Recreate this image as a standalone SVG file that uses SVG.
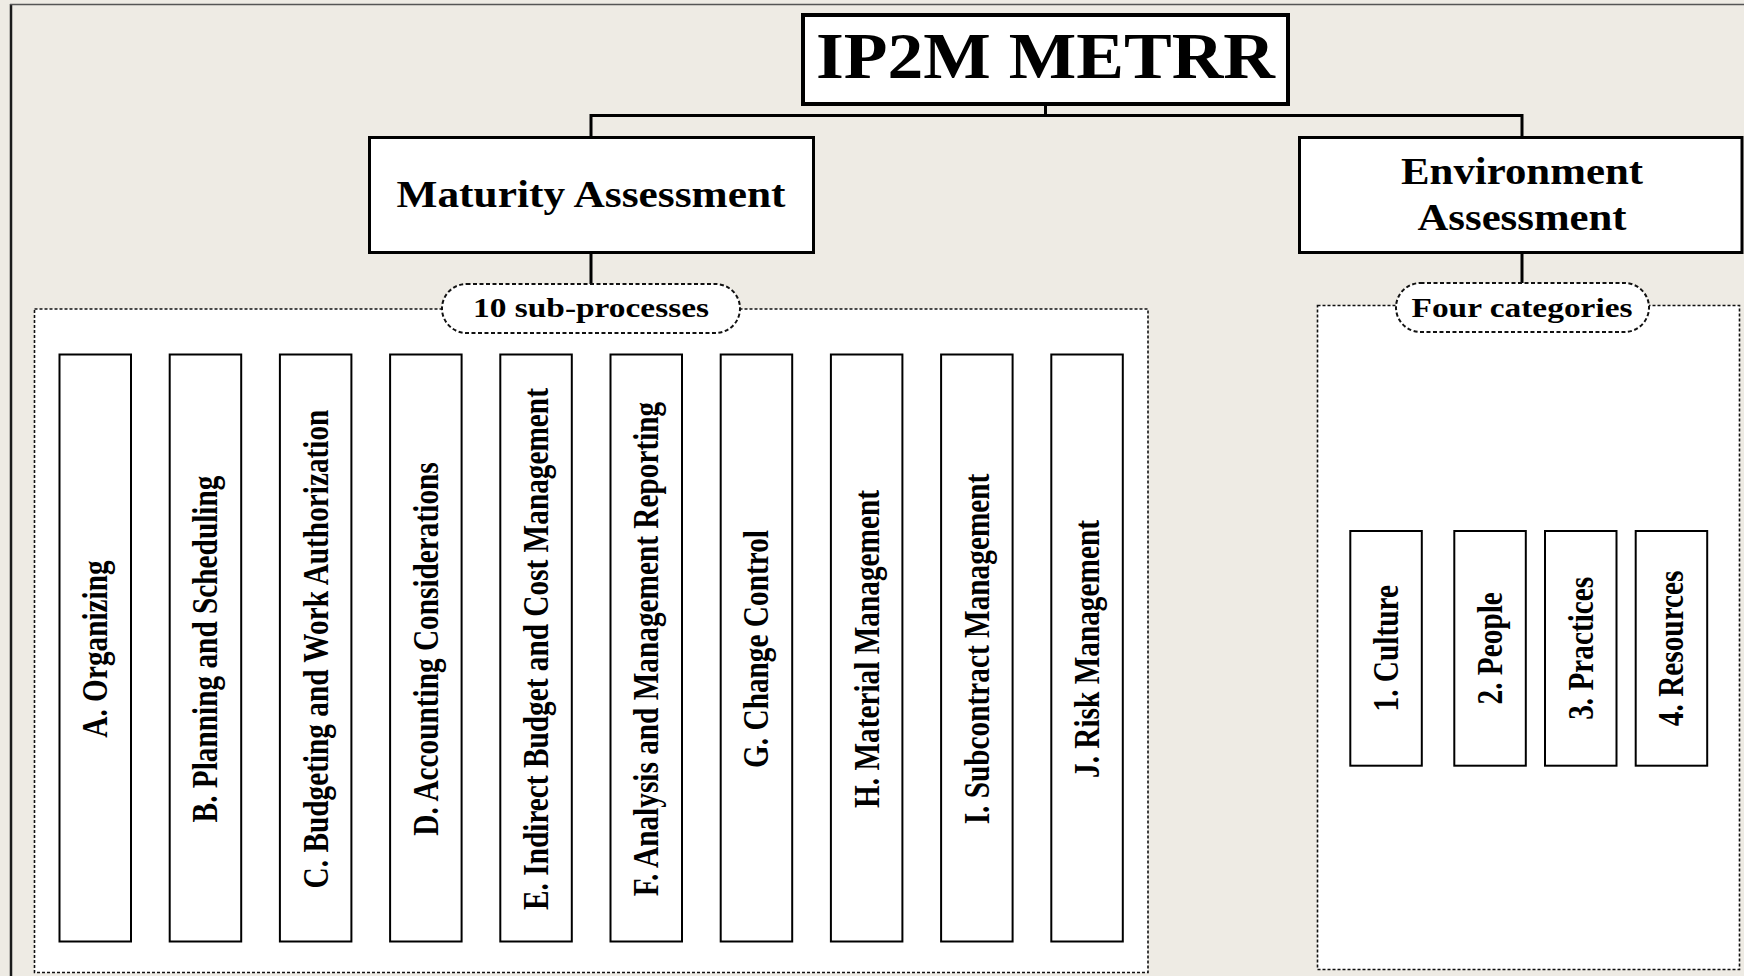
<svg xmlns="http://www.w3.org/2000/svg" width="1744" height="976" viewBox="0 0 1744 976">
<style>
.bg{fill:#EEEBE4}
.box{fill:#fff;stroke:#000}
.cont{fill:#fff;stroke:#111;stroke-width:1.6;stroke-dasharray:3 2}
.pill{fill:#fff;stroke:#111;stroke-width:2;stroke-dasharray:4 2.5}
.conn{fill:none;stroke:#000;stroke-width:3}
.t{font-family:"Liberation Serif","Times New Roman",serif;font-weight:bold;fill:#000;text-anchor:middle}
.vt{font-family:"Liberation Serif","Times New Roman",serif;font-weight:bold;fill:#000;text-anchor:middle;font-size:29.3px}
.sub{stroke-width:2}
</style>
<rect class="bg" x="0" y="0" width="1744" height="976"/>
<g id="frame">
<line x1="11" y1="4" x2="11" y2="976" stroke="#1a1a1a" stroke-width="2.5"/>
<line x1="10" y1="4.5" x2="1744" y2="4.5" stroke="#555" stroke-width="1.5"/>
</g>
<g id="connectors">
<path class="conn" d="M1045.5,106 V115.5 M591,137 V115.5 H1522 V137"/>
<path class="conn" d="M591,254 V284"/>
<path class="conn" d="M1522,254 V283"/>
</g>
<g id="title">
<rect class="box" x="803" y="15" width="485" height="89" stroke-width="4"/>
<text class="t" x="1045.5" y="78" font-size="66" textLength="459" lengthAdjust="spacingAndGlyphs">IP2M METRR</text>
</g>
<g id="maturity">
<rect class="box" x="369.5" y="137.5" width="444" height="115" stroke-width="3"/>
<text class="t" x="591" y="207" font-size="38" textLength="389" lengthAdjust="spacingAndGlyphs">Maturity Assessment</text>
</g>
<g id="environment">
<rect class="box" x="1299.5" y="137.5" width="442.5" height="115" stroke-width="3"/>
<text class="t" x="1522" y="184" font-size="38" textLength="242" lengthAdjust="spacingAndGlyphs">Environment</text>
<text class="t" x="1522" y="230" font-size="38" textLength="209" lengthAdjust="spacingAndGlyphs">Assessment</text>
</g>
<g id="subprocesses-group">
<rect class="cont" x="34.5" y="309" width="1113.5" height="663.5"/>
</g>
<g id="categories-group">
<rect class="cont" x="1317.5" y="305.5" width="422" height="664"/>
</g>
<g id="label-subprocesses">
<rect class="pill" x="442" y="284" width="298" height="49" rx="24.5"/>
<text class="t" x="591" y="317" font-size="28" textLength="236" lengthAdjust="spacingAndGlyphs">10 sub-processes</text>
</g>
<g id="label-categories">
<rect class="pill" x="1396" y="283" width="253" height="49" rx="24.5"/>
<text class="t" x="1522" y="317" font-size="28" textLength="221" lengthAdjust="spacingAndGlyphs">Four categories</text>
</g>
<g id="proc-A"><rect class="box sub" x="59.5" y="354.5" width="71.5" height="587"/><text class="vt" transform="translate(107.1,649) scale(1.22,1) rotate(-90)">A. Organizing</text></g>
<g id="proc-B"><rect class="box sub" x="169.7" y="354.5" width="71.5" height="587"/><text class="vt" transform="translate(217.3,649) scale(1.22,1) rotate(-90)">B. Planning and Scheduling</text></g>
<g id="proc-C"><rect class="box sub" x="279.9" y="354.5" width="71.5" height="587"/><text class="vt" transform="translate(327.5,649) scale(1.22,1) rotate(-90)">C. Budgeting and Work Authorization</text></g>
<g id="proc-D"><rect class="box sub" x="390.1" y="354.5" width="71.5" height="587"/><text class="vt" transform="translate(437.7,649) scale(1.22,1) rotate(-90)">D. Accounting Considerations</text></g>
<g id="proc-E"><rect class="box sub" x="500.3" y="354.5" width="71.5" height="587"/><text class="vt" transform="translate(547.9,649) scale(1.22,1) rotate(-90)">E. Indirect Budget and Cost Management</text></g>
<g id="proc-F"><rect class="box sub" x="610.5" y="354.5" width="71.5" height="587"/><text class="vt" transform="translate(658.1,649) scale(1.22,1) rotate(-90)">F. Analysis and Management Reporting</text></g>
<g id="proc-G"><rect class="box sub" x="720.7" y="354.5" width="71.5" height="587"/><text class="vt" transform="translate(768.3,649) scale(1.22,1) rotate(-90)">G. Change Control</text></g>
<g id="proc-H"><rect class="box sub" x="830.9" y="354.5" width="71.5" height="587"/><text class="vt" transform="translate(878.5,649) scale(1.22,1) rotate(-90)">H. Material Management</text></g>
<g id="proc-I"><rect class="box sub" x="941.1" y="354.5" width="71.5" height="587"/><text class="vt" transform="translate(988.7,649) scale(1.22,1) rotate(-90)">I. Subcontract Management</text></g>
<g id="proc-J"><rect class="box sub" x="1051.3" y="354.5" width="71.5" height="587"/><text class="vt" transform="translate(1098.9,649) scale(1.22,1) rotate(-90)">J. Risk Management</text></g>
<g id="cat-1"><rect class="box sub" x="1350.3" y="531" width="71.5" height="234.7"/><text class="vt" transform="translate(1397.9,648.3) scale(1.22,1) rotate(-90)">1. Culture</text></g>
<g id="cat-2"><rect class="box sub" x="1454.3" y="531" width="71.5" height="234.7"/><text class="vt" transform="translate(1501.9,648.3) scale(1.22,1) rotate(-90)">2. People</text></g>
<g id="cat-3"><rect class="box sub" x="1545" y="531" width="71.5" height="234.7"/><text class="vt" transform="translate(1592.6,648.3) scale(1.22,1) rotate(-90)">3. Practices</text></g>
<g id="cat-4"><rect class="box sub" x="1635.7" y="531" width="71.5" height="234.7"/><text class="vt" transform="translate(1683.3,648.3) scale(1.22,1) rotate(-90)">4. Resources</text></g>
</svg>
